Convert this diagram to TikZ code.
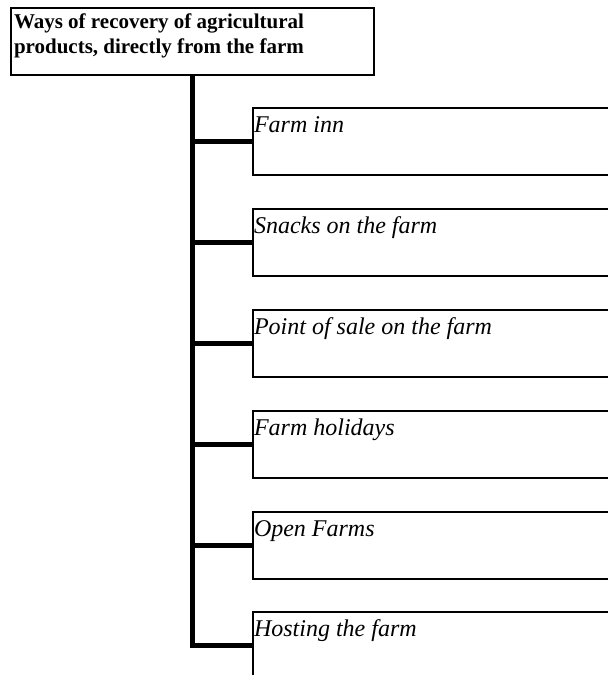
\documentclass[tikz,border=0pt]{standalone}
\usepackage{fontspec}
\setmainfont{Liberation Serif}
\usetikzlibrary{calc}

\begin{document}
\begin{tikzpicture}[x=1pt,y=-1pt]
\def\linecol{black}

\tikzset{every node/.style={inner sep=0pt, outer sep=0pt}}
\tikzset{frame/.style={draw=\linecol, line width=1.5pt, anchor=north west, minimum height=67pt, minimum width=400pt}}
\tikzset{item/.style={anchor=base west, font=\fontsize{24}{28}\selectfont\itshape}}
\tikzset{stem/.style={draw=\linecol, line width=5pt}}
%%%%%%
\useasboundingbox (0,0) rectangle (608,675);
\clip (0,0) rectangle (608,675);

%%%%%%% title
\node(title)at(11,8)[draw=\linecol, line width=1.5pt, anchor=north west, minimum width=363pt, minimum height=67pt]{};
\node(titletext)at($(title.north west)+(3,5.5)$)[anchor=north west, align=left, font=\fontsize{21}{25}\selectfont\bfseries]{Ways of recovery of agricultural\\products, directly from the farm};

%%%%%%% ways
\node(inn)at(253,108)[frame]{};
\node(inntext)at($(inn.north west)+(1,24)$)[item]{Farm inn};
\node(snacks)at($(inn.north west)+(0,101)$)[frame]{};
\node(snackstext)at($(snacks.north west)+(1,24)$)[item]{Snacks on the farm};
\node(sale)at($(snacks.north west)+(0,101)$)[frame]{};
\node(saletext)at($(sale.north west)+(1,24)$)[item]{Point of sale on the farm};
\node(holidays)at($(sale.north west)+(0,101)$)[frame]{};
\node(holidaystext)at($(holidays.north west)+(1,24)$)[item]{Farm holidays};
\node(open)at($(holidays.north west)+(0,101)$)[frame]{};
\node(opentext)at($(open.north west)+(1,24)$)[item]{Open Farms};
\node(hosting)at($(open.north west)+(0,100)$)[frame]{};
\node(hostingtext)at($(hosting.north west)+(1,24)$)[item]{Hosting the farm};

%%%%%%% tree
\draw[stem] (title.south) |- (hosting.west);
\draw[stem] (title.south |- inn.west) -- (inn.west);
\draw[stem] (title.south |- snacks.west) -- (snacks.west);
\draw[stem] (title.south |- sale.west) -- (sale.west);
\draw[stem] (title.south |- holidays.west) -- (holidays.west);
\draw[stem] (title.south |- open.west) -- (open.west);
\end{tikzpicture}
\end{document}
